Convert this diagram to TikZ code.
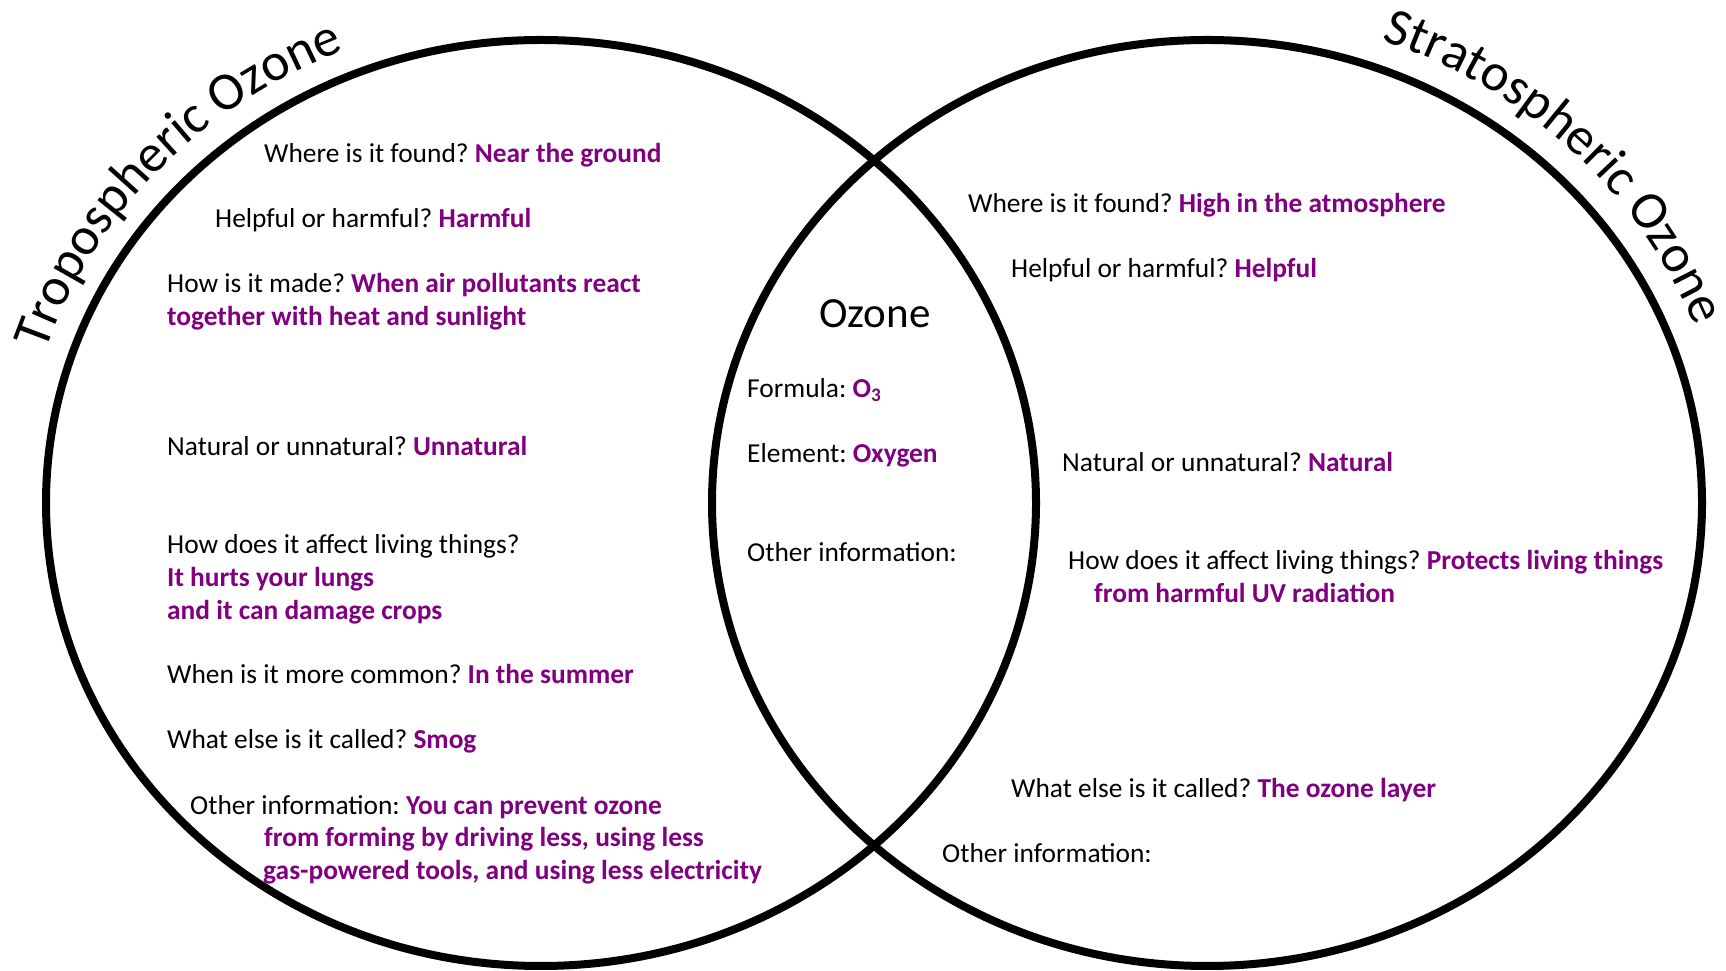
\documentclass[tikz,border=0pt]{standalone}
\usepackage{fontspec}
\setmainfont{Carlito}
\usetikzlibrary{decorations.text}
\definecolor{ozpurple}{RGB}{128,0,128}
\newcommand\ozans[1]{\textcolor{ozpurple}{\bfseries #1}}
\tikzset{
  ring/.style={line width=8pt, draw=black},
  qtext/.style={anchor=base west, inner sep=0pt, font=\frenchspacing\fontsize{27.4}{33}\selectfont},
  midtitle/.style={anchor=base, inner sep=0pt, font=\fontsize{43}{47}\selectfont},
}
\begin{document}
\begin{tikzpicture}[x=1pt,y=1pt]
\useasboundingbox[fill=white] (0,0) rectangle (1726,971);
% ellipses
\draw[ring] (541,468) ellipse[x radius=495, y radius=463];
\draw[ring] (1207,468) ellipse[x radius=495, y radius=463];
% curved titles
\path[decorate, decoration={text along path, text color=black,
  text={|\fontsize{53.5}{53}\selectfont|Tropospheric Ozone}}]
  (541,468) ++(162:521 and 489) arc[start angle=162, end angle=90, x radius=521, y radius=489];
\path[decorate, decoration={text along path, text color=black,
  text={|\fontsize{53}{53}\selectfont|Stratospheric Ozone}}]
  (1207,468) ++(70.5:523 and 491) arc[start angle=70.5, end angle=0, x radius=523, y radius=491];
% left circle texts
\node[qtext] (l1) at (264,808) {Where is it found? \ozans{Near the ground}};
\node[qtext] (l2) at (215,743) {Helpful or harmful? \ozans{Harmful}};
\node[qtext] (l3a) at (167,678) {How is it made? \ozans{When air pollutants react}};
\node[qtext] (l3b) at (167,645) {\ozans{together with heat and sunlight}};
\node[qtext] (l4) at (167,515) {Natural or unnatural? \ozans{Unnatural}};
\node[qtext] (l5a) at (167,417) {How does it affect living things?};
\node[qtext] (l5b) at (167,384) {\ozans{It hurts your lungs}};
\node[qtext] (l5c) at (167,351) {\ozans{and it can damage crops}};
\node[qtext] (l6) at (167,287) {When is it more common? \ozans{In the summer}};
\node[qtext] (l7) at (167,222) {What else is it called? \ozans{Smog}};
\node[qtext] (l8a) at (190,156) {Other information: \ozans{You can prevent ozone}};
\node[qtext] (l8b) at (264,124) {\ozans{from forming by driving less, using less}};
\node[qtext] (l8c) at (263,91) {\ozans{gas-powered tools, and using less electricity}};
% middle
\node[midtitle] (mt) at (875,643) {Ozone};
\node[qtext] (m1) at (747,573) {Formula: \ozans{O\textsubscript{3}}};
\node[qtext] (m2) at (747,508) {Element: \ozans{Oxygen}};
\node[qtext] (m3) at (747,409) {Other information:};
% right circle texts
\node[qtext] (r1) at (968,758) {Where is it found? \ozans{High in the atmosphere}};
\node[qtext] (r2) at (1011,693) {Helpful or harmful? \ozans{Helpful}};
\node[qtext] (r3) at (1062,499) {Natural or unnatural? \ozans{Natural}};
\node[qtext] (r4a) at (1068,401) {How does it affect living things? \ozans{Protects living things}};
\node[qtext] (r4b) at (1094,368) {\ozans{from harmful UV radiation}};
\node[qtext] (r5) at (1011,173) {What else is it called? \ozans{The ozone layer}};
\node[qtext] (r6) at (942,108) {Other information:};
\end{tikzpicture}
\end{document}
